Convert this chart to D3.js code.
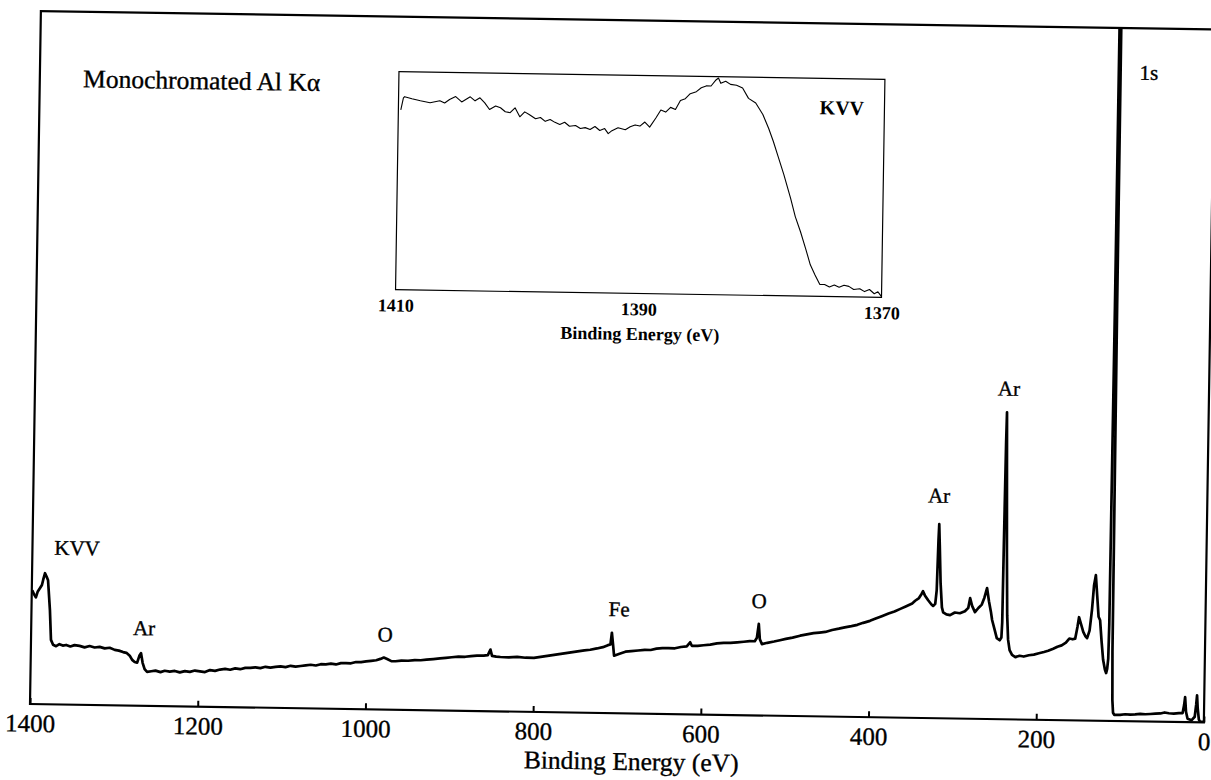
<!DOCTYPE html>
<html>
<head>
<meta charset="utf-8">
<script src="https://cdn.jsdelivr.net/npm/d3@7"></script>
<style>
  html, body { margin: 0; padding: 0; background: #fff; }
  svg { display: block; }
  svg text { font-family: "Liberation Serif", "Times New Roman", serif !important; fill: #000; }
  .heavy { stroke: #000; stroke-width: 0.35px; }
</style>
</head>
<body>
<svg id="chart" width="1211" height="780"></svg>
<script>
// ---------------- DATA ----------------
const mainTicks = [1400, 1200, 1000, 800, 600, 400, 200, 0];
const insetTicks = [1410, 1390, 1370];

const mainEnergy = [
  1399.5, 1397, 1395, 1393, 1390, 1388, 1386.5, 1384.5, 1382.5, 1380.8, 1378, 1376.2, 1373.6, 1370,
  1366, 1362, 1358, 1353, 1348, 1342, 1336, 1330, 1324, 1318, 1312, 1306, 1300, 1295, 1290, 1286,
  1282, 1279, 1276, 1273, 1270.5, 1268.6, 1266.5, 1264, 1261, 1256, 1251, 1245, 1240, 1234, 1228,
  1222, 1216, 1210, 1204, 1198, 1192, 1186, 1180, 1174, 1168, 1162, 1156, 1150, 1144, 1138, 1132,
  1126, 1120, 1114, 1108, 1102, 1096, 1090, 1084, 1078, 1072, 1066, 1060, 1054, 1048, 1042, 1036,
  1030, 1024, 1018, 1012, 1006, 1000, 994, 988, 983, 979, 975, 970, 965, 958, 950, 942, 935, 928,
  920, 912, 905, 898, 890, 882, 875, 868, 860, 855, 852, 850, 845, 840, 830, 820, 810, 800, 790,
  780, 770, 760, 750, 740, 733, 725, 718, 712, 709, 707.5, 706, 704.5, 698, 691, 684, 676, 668,
  661, 654, 647, 640, 632, 625, 618, 614, 612, 605, 598, 590, 582, 574, 566, 558, 550, 543, 537,
  534.5, 532.5, 531, 528.5, 522, 514, 507, 500, 492, 483, 475, 467, 460, 453, 445, 437, 430, 422,
  415, 408, 400, 394, 386, 378, 371, 364, 357, 350, 346.5, 342, 339, 337.3, 335, 331, 327, 325,
  322.5, 321, 319.8, 319.2, 318.2, 316.5, 314.5, 312.9, 309, 304.6, 299, 293, 287, 283, 281, 278.5,
  275, 271, 267, 264, 261, 258.5, 256, 254.4, 251, 248.5, 245, 243, 242.3, 241.8, 241, 240.5,
  239.5, 238, 236.5, 235, 233, 230, 226, 221, 216, 210, 204, 198, 192, 187, 181, 176, 171, 166,
  162, 158, 155, 152.5, 150.8, 148, 145.5, 143, 140.8, 138, 135.5, 133.5, 131.5, 129.5, 127.5,
  125.6, 123.5, 121.3, 119, 117.5, 116.3, 115.2, 114.6, 113.8, 112.8, 112.2, 111.2, 110.3, 109.5,
  108.5, 107, 106, 100, 94, 88, 82, 76, 70, 64, 58, 52, 47, 42, 36, 30, 25.5, 23.8,
  22.8, 21.5, 19.5, 17, 14.6, 11, 9.5, 8.6, 7.6, 6, 4.5, 1
];
const mainIntensity = [
  16.4, 15.8, 15.4, 16.2, 16.8, 17.2, 18.0, 18.9, 18.4, 17.9, 13.6, 9.3, 8.6, 8.4,
  8.7, 8.5, 8.6, 8.4, 8.6, 8.5, 8.3, 8.5, 8.3, 8.4, 8.2, 8.3, 8.0, 7.9, 7.7, 7.6,
  7.2, 6.6, 6.3, 6.2, 7.2, 7.6, 6.2, 5.3, 4.9, 5.0, 5.1, 4.9, 5.1, 5.0, 5.1,
  4.9, 5.1, 5.0, 5.2, 5.1, 5.0, 5.3, 5.2, 5.4, 5.5, 5.4, 5.6, 5.5, 5.7, 5.7, 5.8,
  5.7, 5.9, 5.8, 5.9, 6.0, 5.9, 6.1, 6.0, 6.1, 6.2, 6.3, 6.2, 6.4, 6.4, 6.5, 6.4,
  6.6, 6.6, 6.6, 6.8, 6.8, 6.9, 7.0, 7.1, 7.3, 7.5, 7.3, 7.0, 7.0, 7.1, 7.1, 7.2, 7.2, 7.3,
  7.4, 7.5, 7.6, 7.7, 7.8, 7.8, 7.9, 8.0, 8.0, 8.1, 8.9, 8.0, 7.9, 7.85, 7.8, 7.9, 7.8, 7.8, 8.0,
  8.2, 8.4, 8.6, 8.8, 9.0, 9.1, 9.3, 9.5, 9.8, 9.9, 11.6, 10.0, 8.3, 8.6, 8.9, 9.0, 9.1, 9.2,
  9.2, 9.4, 9.5, 9.5, 9.5, 9.7, 9.8, 10.4, 9.9, 9.9, 10.0, 10.1, 10.3, 10.4, 10.4, 10.5, 10.6, 10.7, 10.7,
  11.2, 13.2, 11.0, 10.3, 10.5, 10.7, 10.9, 11.1, 11.3, 11.6, 11.8, 12.0, 12.1, 12.2, 12.5, 12.7, 12.9, 13.1,
  13.3, 13.6, 13.9, 14.2, 14.6, 15.0, 15.3, 15.7, 16.1, 16.5, 16.9, 17.3, 17.9, 18.3, 17.7, 17.0, 16.4, 16.2,
  16.5, 18.5, 25.7, 28.0, 25.0, 19.5, 16.0, 15.3, 15.0, 14.9, 15.3, 15.2, 15.5, 16.0, 17.4, 16.3,
  15.4, 16.0, 16.5, 17.5, 18.9, 17.0, 15.5, 14.3, 12.8, 11.7, 11.4, 11.8, 14.0, 25.0, 40.0, 44.3,
  36.0, 24.0, 15.0, 11.5, 10.0, 9.3, 9.0, 9.2, 9.1, 9.3, 9.4, 9.6, 9.8, 10.0, 10.3, 10.6, 10.8, 11.2,
  11.8, 11.7, 11.8, 13.5, 14.9, 13.8, 12.8, 12.2, 11.9, 13.0, 16.0, 19.5, 21.0, 18.0, 15.0,
  14.5, 11.5, 8.8, 7.4, 6.9, 7.5, 9.0, 14.0, 60.0, 200.0, 200.0, 60.0, 10.0, 3.0,
  1.2, 0.9, 0.9, 0.9, 1.0, 0.95, 1.0, 1.1, 1.05, 1.1, 1.15, 1.2, 1.35, 1.25, 1.2, 1.3, 1.3, 2.5,
  3.6, 1.5, 0.5, 0.4, 0.3, 0.8, 2.5, 3.9, 2.0, 0.4, 0.1, 0.1
];

const insetEnergy = [
  1409.8, 1409.6, 1409.5, 1408.9, 1408.2, 1407.4, 1406.6, 1406.2, 1405.8, 1405.3, 1404.8, 1404.1,
  1403.7, 1403.3, 1402.9, 1402.5, 1402.0, 1401.6, 1401.2, 1400.8, 1400.4, 1400.0, 1399.6, 1399.2,
  1398.7, 1398.3, 1397.9, 1397.5, 1397.1, 1396.7, 1396.3, 1395.9, 1395.4, 1395.0, 1394.6, 1394.2,
  1393.8, 1393.4, 1393.0, 1392.7, 1392.4, 1391.9, 1391.3, 1390.9, 1390.5, 1390.1, 1389.7, 1389.3,
  1388.8, 1388.4, 1388.0, 1387.6, 1387.2, 1386.8, 1386.4, 1386.0, 1385.5, 1385.1, 1384.7, 1384.3,
  1383.9, 1383.7, 1383.5, 1383.1, 1382.7, 1382.2, 1381.7, 1381.2, 1380.6, 1380.0, 1379.5, 1379.1,
  1378.7, 1378.2, 1377.6, 1377.2, 1376.75, 1376.3, 1375.9, 1375.5, 1375.1, 1374.7, 1374.3, 1373.9,
  1373.5, 1373.1, 1372.7, 1372.3, 1371.8, 1371.4, 1371.0, 1370.6, 1370.3, 1370.0
];
const insetIntensity = [
  82.5, 88.0, 88.6, 87.7, 86.8, 86.0, 87.0, 86.0, 87.6, 89.0, 86.6, 89.0,
  87.2, 88.6, 86.3, 83.3, 85.0, 84.2, 82.4, 82.0, 84.3, 80.2, 82.5, 81.2,
  79.4, 80.0, 78.3, 79.2, 77.9, 77.0, 78.0, 76.2, 76.6, 75.3, 75.7, 74.9,
  76.3, 74.5, 75.4, 73.1, 74.5, 75.9, 75.0, 76.4, 77.3, 76.8, 78.7, 76.4,
  80.6, 84.3, 83.4, 85.6, 84.7, 88.8, 89.7, 92.0, 93.0, 94.8, 95.7, 95.7,
  98.5, 99.4, 97.0, 98.0, 96.6, 96.2, 95.0, 90.3, 88.2, 83.0, 76.6, 70.7,
  64.0, 55.7, 44.6, 36.4, 29.5, 21.7, 14.4, 9.8, 5.5, 5.5, 4.4, 5.3,
  4.3, 5.3, 4.8, 3.4, 3.8, 2.5, 3.5, 1.6, 2.5, 0.3
];

const peakLabels   = ["KVV", "Ar", "O", "Fe", "O", "Ar", "Ar", "1s"];
const peakLabelEV  = [1346.7, 1265.3, 977.9, 699.3, 532.5, 319.9, 238.5, 77.6];
const peakLabelInt = [21.6, 10.2, 9.8, 14.0, 15.5, 31.1, 46.7, 92.6];

const titleText = "Monochromated Al K\u03B1";
const axisTitle = "Binding Energy (eV)";
const insetLabel = "KVV";

// ---------------- LAYOUT ----------------
const SERIF = '"Liberation Serif", "Times New Roman", serif';
const svg = d3.select("#chart");
svg.append("rect").attr("width", 1211).attr("height", 780).attr("fill", "#fff");

const P = { left: 30, top: 11, right: 1204, bottom: 704 };
const g = svg.append("g").attr("transform", `rotate(0.9, ${P.left}, ${P.bottom})`)
  .attr("font-family", SERIF);

const x = d3.scaleLinear().domain([1400, 0]).range([P.left, P.right]);
const y = d3.scaleLinear().domain([0, 100]).range([P.bottom, P.top]);

g.append("defs").append("clipPath").attr("id", "plotclip")
  .append("rect").attr("x", P.left).attr("y", P.top)
  .attr("width", P.right - P.left).attr("height", P.bottom - P.top);

// Main spectrum
const mainData = mainEnergy.map((e, i) => [e, mainIntensity[i]]);
g.append("path")
  .datum(mainData)
  .attr("clip-path", "url(#plotclip)")
  .attr("fill", "none")
  .attr("stroke", "#000")
  .attr("stroke-width", 2.7)
  .attr("stroke-linejoin", "round")
  .attr("d", d3.line().x(d => x(d[0])).y(d => y(d[1])));

// Frame
g.append("rect")
  .attr("x", P.left).attr("y", P.top)
  .attr("width", P.right - P.left).attr("height", P.bottom - P.top)
  .attr("fill", "none").attr("stroke", "#000").attr("stroke-width", 2.2);

// Bottom axis
const xAxis = d3.axisBottom(x).tickValues(mainTicks).tickSizeInner(-6).tickSizeOuter(0)
  .tickPadding(10).tickFormat(d3.format("d"));
const ax = g.append("g").attr("transform", `translate(0,${P.bottom})`).call(xAxis)
  .attr("font-family", SERIF).attr("font-size", null);
ax.select(".domain").remove();
ax.selectAll(".tick line").attr("stroke", "#000").attr("stroke-width", 2);
ax.selectAll(".tick text").attr("class", "heavy")
  .style("font-size", "25px").style("font-family", SERIF).attr("fill", "#000");

g.append("text").attr("class", "heavy")
  .attr("x", (P.left + P.right) / 2 + 15).attr("y", 760.5)
  .attr("text-anchor", "middle").style("font-size", "25.5px").style("font-family", SERIF)
  .text(axisTitle);

// Title
g.append("text").attr("class", "heavy")
  .attr("x", x(1348.4)).attr("y", y(89.1))
  .attr("text-anchor", "start").style("font-size", "25.5px").style("font-family", SERIF)
  .text(titleText);

// Peak labels
g.selectAll("text.peak").data(peakLabels).join("text")
  .attr("class", "peak heavy")
  .attr("x", (d, i) => x(peakLabelEV[i]))
  .attr("y", (d, i) => y(peakLabelInt[i]))
  .attr("text-anchor", "middle")
  .style("font-size", "21px").style("font-family", SERIF)
  .text(d => d);

// ---------------- INSET ----------------
const I = { left: 389, top: 66, right: 875, bottom: 284 };
const xi = d3.scaleLinear().domain([1410, 1370]).range([I.left, I.right]);
const yi = d3.scaleLinear().domain([0, 100]).range([I.bottom, I.top]);

g.append("rect")
  .attr("x", I.left).attr("y", I.top)
  .attr("width", I.right - I.left).attr("height", I.bottom - I.top)
  .attr("fill", "#fff").attr("stroke", "#000").attr("stroke-width", 1.2);

const insetData = insetEnergy.map((e, i) => [e, insetIntensity[i]]);
g.append("path")
  .datum(insetData)
  .attr("fill", "none").attr("stroke", "#000").attr("stroke-width", 1.1)
  .attr("stroke-linejoin", "round")
  .attr("d", d3.line().x(d => xi(d[0])).y(d => yi(d[1])));

const xiAxis = d3.axisBottom(xi).tickValues(insetTicks).tickSize(0).tickPadding(9)
  .tickFormat(d3.format("d"));
const axi = g.append("g").attr("transform", `translate(0,${I.bottom})`).call(xiAxis)
  .attr("font-family", SERIF).attr("font-size", null);
axi.select(".domain").remove();
axi.selectAll(".tick text").style("font-size", "18px").style("font-weight", "bold")
  .style("font-family", SERIF).attr("fill", "#000");

g.append("text")
  .attr("x", (I.left + I.right) / 2 + 2).attr("y", 330.5)
  .attr("text-anchor", "middle").style("font-size", "18px").style("font-weight", "bold")
  .style("font-family", SERIF)
  .text(axisTitle);

g.append("text")
  .attr("x", xi(1373.5)).attr("y", yi(83.5))
  .attr("text-anchor", "middle").style("font-size", "20px").style("font-weight", "bold")
  .style("font-family", SERIF)
  .text(insetLabel);
</script>
</body>
</html>
